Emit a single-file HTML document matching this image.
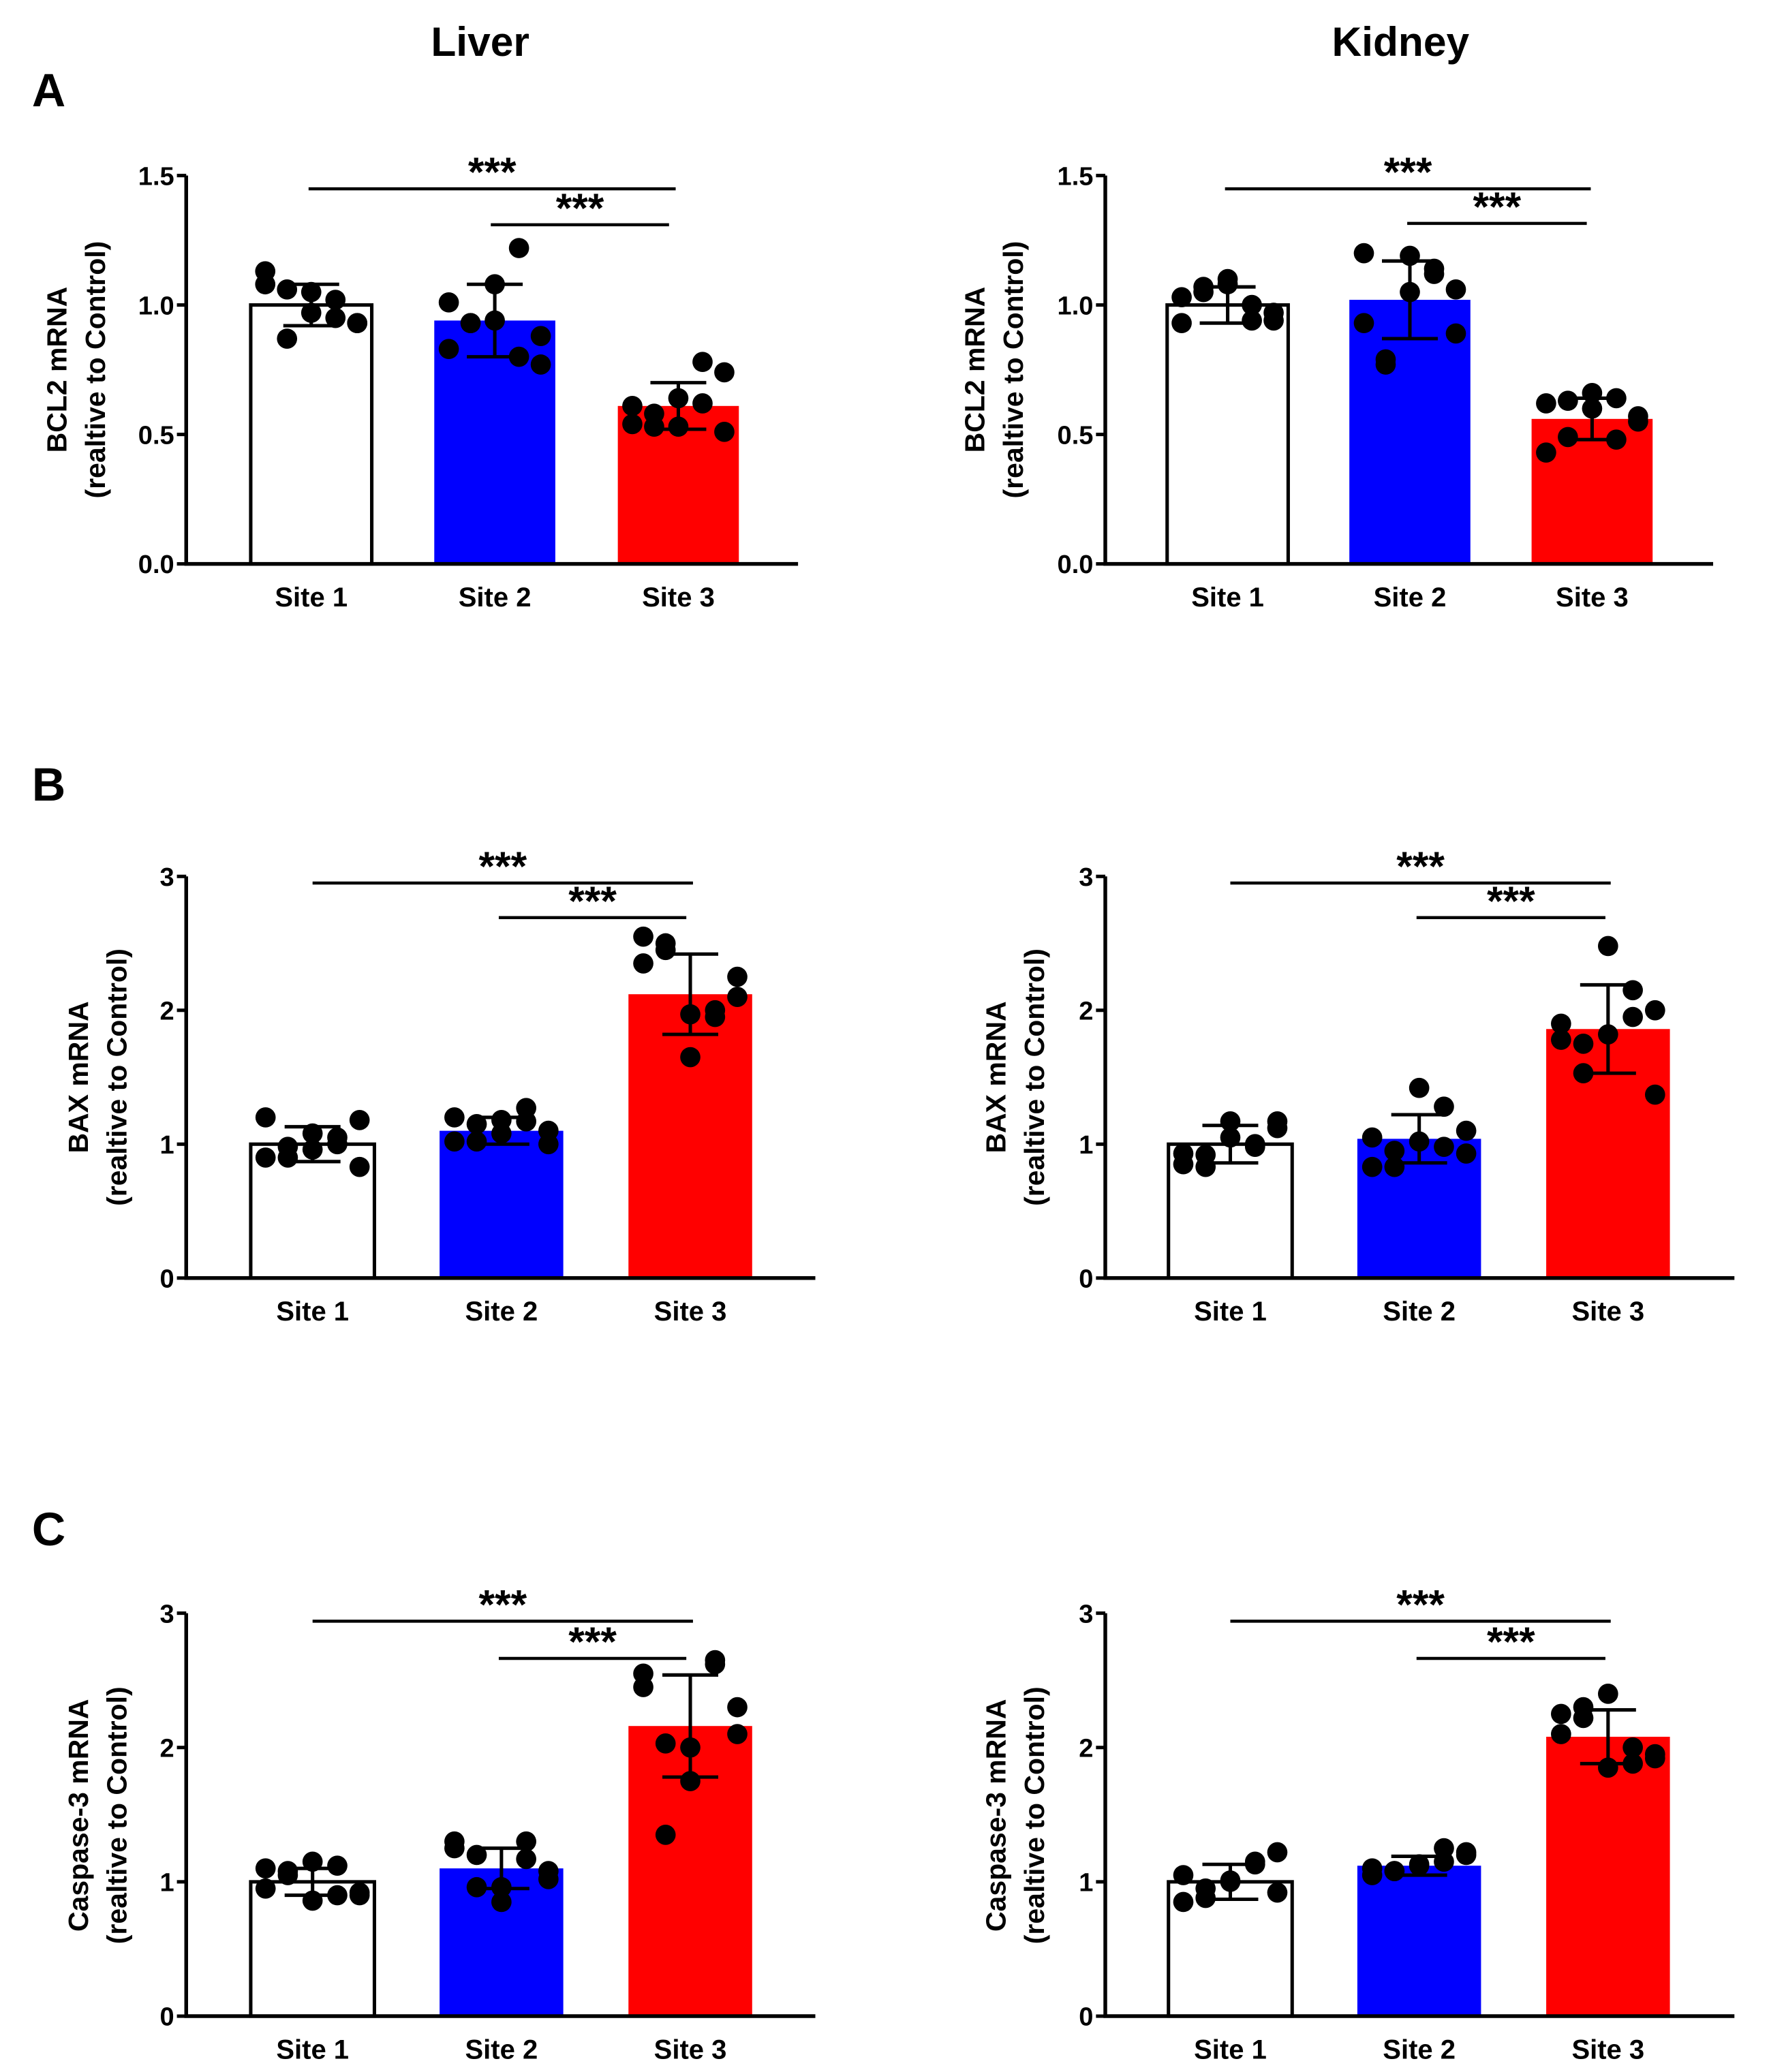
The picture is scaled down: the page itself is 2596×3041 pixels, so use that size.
<!DOCTYPE html>
<html><head><meta charset="utf-8"><style>
html,body{margin:0;padding:0;background:#fff;}
svg{display:block;}
text{font-family:"Liberation Sans",Arial,sans-serif;font-weight:bold;fill:#000;}
</style></head>
<body>
<svg id="fig" width="2596" height="3041" viewBox="0 0 1330 1558" preserveAspectRatio="none" xmlns="http://www.w3.org/2000/svg">
<text x="361" y="42" font-size="31" text-anchor="middle">Liver</text>
<text x="1053" y="42" font-size="31" text-anchor="middle">Kidney</text>
<text x="24" y="80" font-size="35">A</text>
<text x="24" y="602" font-size="35">B</text>
<text x="24" y="1162" font-size="35">C</text>
</svg>
<script>
const categories = ["Site 1","Site 2","Site 3"];
const barColors = ["#ffffff","#0000ff","#ff0000"];
// Panel A - BCL2
const liverBcl2Means = [1.00, 0.94, 0.61];
const liverBcl2Sds = [0.08, 0.14, 0.09];
const liverBcl2Points = [
  [1.08,0.93,0.87,1.02,0.97,1.13,0.93,1.06,0.95,1.05],
  [0.83,0.77,0.93,1.22,1.08,1.01,0.88,0.93,0.80,0.94],
  [0.61,0.51,0.58,0.78,0.64,0.54,0.74,0.53,0.62,0.53]];
const kidneyBcl2Means = [1.00, 1.02, 0.56];
const kidneyBcl2Sds = [0.07, 0.15, 0.08];
const kidneyBcl2Points = [
  [0.93,0.97,1.05,0.94,1.08,1.03,0.94,1.07,1.00,1.10],
  [1.20,0.89,0.77,1.14,1.19,0.93,1.06,0.79,1.12,1.05],
  [0.62,0.57,0.49,0.64,0.66,0.43,0.55,0.63,0.48,0.60]];
const bcl2Ticks = ["0.0","0.5","1.0","1.5"];
const bcl2TickValues = [0,0.5,1.0,1.5];
// Panel B - BAX
const liverBaxMeans = [1.00, 1.10, 2.12];
const liverBaxSds = [0.13, 0.10, 0.30];
const liverBaxPoints = [
  [1.20,0.83,0.98,1.00,1.08,0.90,1.18,0.90,1.05,0.96],
  [1.02,1.10,1.15,1.27,1.08,1.20,1.00,1.02,1.17,1.18],
  [2.35,2.10,2.50,2.00,1.65,2.55,2.25,2.45,1.95,1.97]];
const kidneyBaxMeans = [1.00, 1.04, 1.86];
const kidneyBaxSds = [0.14, 0.18, 0.33];
const kidneyBaxPoints = [
  [0.85,1.17,0.92,1.00,1.05,0.93,1.12,0.83,0.98,1.17],
  [1.05,0.93,0.83,1.28,1.42,0.83,1.10,0.95,0.98,1.02],
  [1.78,2.00,1.53,2.15,2.48,1.90,1.37,1.75,1.95,1.82]];
// Panel C - Caspase-3
const liverCasMeans = [1.00, 1.10, 2.16];
const liverCasSds = [0.10, 0.15, 0.38];
const liverCasPoints = [
  [1.10,0.92,1.05,0.90,1.15,0.95,0.90,1.08,1.12,0.86],
  [1.30,1.08,0.96,1.17,0.85,1.25,1.02,1.20,1.30,0.96],
  [2.55,2.30,2.03,2.65,1.75,2.45,2.10,1.35,2.62,2.00]];
const kidneyCasMeans = [1.00, 1.12, 2.08];
const kidneyCasSds = [0.13, 0.07, 0.20];
const kidneyCasPoints = [
  [1.05,0.92,0.88,1.13,1.01,0.85,1.22,0.95,1.15,1.00],
  [1.10,1.20,1.08,1.25,1.12,1.05,1.22,1.08,1.15,1.13],
  [2.25,1.95,2.30,1.88,2.40,2.10,1.92,2.22,2.00,1.85]];
const int3Ticks = ["0","1","2","3"];
const int3TickValues = [0,1,2,3];

const NS="http://www.w3.org/2000/svg";
const svg=document.getElementById('fig');
function mk(tag,attrs,parent){const e=document.createElementNS(NS,tag);for(const k in attrs)e.setAttribute(k,attrs[k]);(parent||svg).appendChild(e);return e;}

const jitter=[-0.38,0.38,-0.2,0.2,0,-0.38,0.38,-0.2,0.2,0];

function panel(L){
  const g=mk('g',{});
  
  
  const y=v=>L.y0-(v/L.ymax)*(L.y0-L.ytop);
  const bx=i=>L.x1+i*L.step;
  categories.forEach((c,i)=>{
    const top=y(L.means[i]);
    const r=mk('rect',{x:bx(i)-L.bw/2,y:top,width:L.bw,height:L.y0-top,fill:barColors[i],stroke:i==0?'#000':'none','stroke-width':2.6},g);
    
    
  });
  L.points.forEach((arr,i)=>{arr.forEach((v,j)=>{
    const d=mk('circle',{cx:bx(i)+jitter[j]*L.bw,cy:y(v),r:7.6,fill:'#000'},g);
    
    
  });});
  categories.forEach((c,i)=>{
    const m=L.means[i],s=L.sds[i];
    const e=mk('path',{d:`M${bx(i)},${y(m-s)}V${y(m+s)}M${bx(i)-21},${y(m+s)}h42M${bx(i)-21},${y(m-s)}h42`,stroke:'#000','stroke-width':2.6,fill:'none'},g);
    
    
  });
  const ax=mk('path',{d:`M${L.ax},${L.ytop}V${L.y0}H${L.xend}`,stroke:'#000','stroke-width':2.8,fill:'none'},g);
  
  
  L.tickVals.forEach((v,k)=>{
    mk('line',{x1:L.ax-7,x2:L.ax,y1:y(v),y2:y(v),stroke:'#000','stroke-width':2.6},g);
    const t=mk('text',{x:L.ax-9,y:y(v)+7,'font-size':19.5,'text-anchor':'end'},g);
    t.textContent=L.ticks[k];
    
    
  });
  categories.forEach((c,i)=>{
    const t=mk('text',{x:bx(i),y:L.y0+32,'font-size':20.5,'text-anchor':'middle'},g);
    t.textContent=c;
    
    
  });
  const tg=mk('text',{transform:`translate(${L.tx},${L.tcy}) rotate(-90)`,'font-size':21,'text-anchor':'middle'},g);
  
  
  const s1=mk('tspan',{x:0,y:0},tg);s1.textContent=L.title;
  const s2=mk('tspan',{x:0,y:29},tg);s2.textContent='(realtive to Control)';
  L.sig.forEach(sg=>{
    const l=mk('line',{x1:sg[0],x2:sg[1],y1:sg[2],y2:sg[2],stroke:'#000','stroke-width':2.3},g);
    
    
    const t=mk('text',{x:(sg[0]+sg[1])/2,y:sg[2]-2,'font-size':31,'text-anchor':'middle'},g);
    t.textContent='***';
    
    
  });
}

panel({name:'liver-bcl2-chart',ax:140,xend:600,ytop:132,y0:424,ymax:1.5,x1:234,step:138,bw:91,means:liverBcl2Means,sds:liverBcl2Sds,points:liverBcl2Points,ticks:bcl2Ticks,tickVals:bcl2TickValues,title:'BCL2 mRNA',tx:50,tcy:278,sig:[[232,508,142],[369,503,169]]});
panel({name:'kidney-bcl2-chart',ax:831,xend:1288,ytop:132,y0:424,ymax:1.5,x1:923,step:137,bw:91,means:kidneyBcl2Means,sds:kidneyBcl2Sds,points:kidneyBcl2Points,ticks:bcl2Ticks,tickVals:bcl2TickValues,title:'BCL2 mRNA',tx:740,tcy:278,sig:[[921,1196,142],[1058,1193,168]]});
panel({name:'liver-bax-chart',ax:140,xend:613,ytop:659,y0:961,ymax:3,x1:235,step:142,bw:93,means:liverBaxMeans,sds:liverBaxSds,points:liverBaxPoints,ticks:int3Ticks,tickVals:int3TickValues,title:'BAX mRNA',tx:66,tcy:810,sig:[[235,521,664],[375,516,690]]});
panel({name:'kidney-bax-chart',ax:831,xend:1304,ytop:659,y0:961,ymax:3,x1:925,step:142,bw:93,means:kidneyBaxMeans,sds:kidneyBaxSds,points:kidneyBaxPoints,ticks:int3Ticks,tickVals:int3TickValues,title:'BAX mRNA',tx:756,tcy:810,sig:[[925,1211,664],[1065,1207,690]]});
panel({name:'liver-caspase3-chart',ax:140,xend:613,ytop:1213,y0:1516,ymax:3,x1:235,step:142,bw:93,means:liverCasMeans,sds:liverCasSds,points:liverCasPoints,ticks:int3Ticks,tickVals:int3TickValues,title:'Caspase-3 mRNA',tx:66,tcy:1365,sig:[[235,521,1219],[375,516,1247]]});
panel({name:'kidney-caspase3-chart',ax:831,xend:1304,ytop:1213,y0:1516,ymax:3,x1:925,step:142,bw:93,means:kidneyCasMeans,sds:kidneyCasSds,points:kidneyCasPoints,ticks:int3Ticks,tickVals:int3TickValues,title:'Caspase-3 mRNA',tx:756,tcy:1365,sig:[[925,1211,1219],[1065,1207,1247]]});
</script>
</body></html>
